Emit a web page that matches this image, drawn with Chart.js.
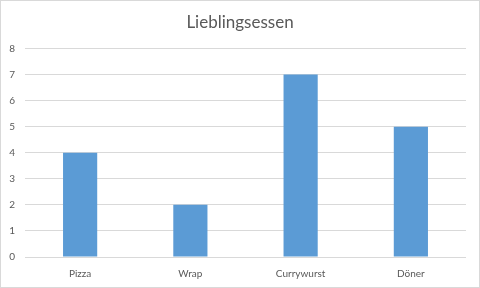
<!DOCTYPE html>
<html><head><meta charset="utf-8">
<script src="https://cdn.jsdelivr.net/npm/chart.js@4/dist/chart.umd.min.js"></script>
<style>html,body{margin:0;padding:0;background:#fff}#wrap{width:480px;height:288px}</style>
</head><body><div id="wrap"><canvas id="c" width="480" height="288"></canvas></div>
<script>
const categories = ["Pizza", "Wrap", "Currywurst", "Döner"];
const values = [4, 2, 7, 5];
const chartTitle = "Lieblingsessen";
const yMin = 0, yMax = 8, yStep = 1;

const borderPlugin = {
  id: 'outerBorder',
  afterDraw(chart) {
    const ctx = chart.ctx;
    ctx.save();
    ctx.strokeStyle = '#d9d9d9';
    ctx.lineWidth = 1;
    ctx.strokeRect(0.5, 0.5, chart.width - 1, chart.height - 1);
    ctx.restore();
  }
};
const bgPlugin = {
  id: 'bg',
  beforeDraw(chart) {
    const ctx = chart.ctx;
    ctx.save(); ctx.fillStyle = '#fff'; ctx.fillRect(0, 0, chart.width, chart.height); ctx.restore();
  }
};

new Chart(document.getElementById('c'), {
  type: 'bar',
  data: {
    labels: categories,
    datasets: [{ data: values, backgroundColor: '#5B9BD5', barPercentage: 0.31, categoryPercentage: 1 }]
  },
  options: {
    responsive: false,
    animation: false,
    devicePixelRatio: 1,
    layout: { padding: 0 },
    plugins: {
      legend: { display: false },
      tooltip: { enabled: false },
      title: { display: true, text: chartTitle, color: '#595959',
        font: { family: 'Lato, "Open Sans", sans-serif', size: 17, weight: 'normal' },
        padding: { top: 12, bottom: 16 } }
    },
    scales: {
      x: {
        grid: { display: false },
        border: { display: false },
        ticks: { color: '#595959', font: { family: 'Lato, "Open Sans", sans-serif', size: 10 }, padding: 3, maxRotation: 0 },
        afterFit(s) { s.height = 31; }
      },
      y: {
        min: yMin, max: yMax,
        grid: { color: '#d9d9d9', drawTicks: false },
        border: { display: false },
        ticks: { stepSize: yStep, color: '#595959', font: { family: 'Lato, "Open Sans", sans-serif', size: 10 }, padding: 10 },
        afterFit(s) { s.width = 25; }
      },
      spacer: {
        type: 'linear', position: 'right', min: yMin, max: yMax,
        grid: { display: false, drawOnChartArea: false },
        border: { display: false },
        ticks: { display: false },
        afterFit(s) { s.width = 14; }
      }
    }
  },
  plugins: [bgPlugin, borderPlugin]
});
</script></body></html>
